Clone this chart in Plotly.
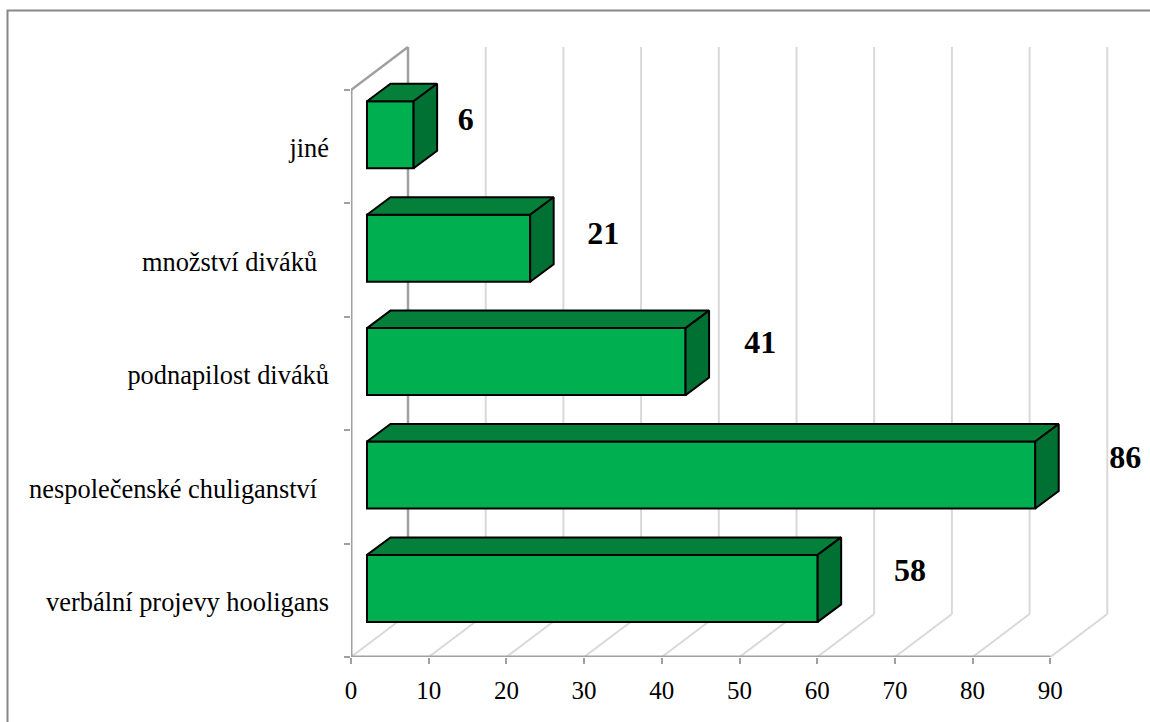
import plotly.graph_objects as go

# Data (bottom to top)
categories = ["verbální projevy hooligans", "nespolečenské chuliganství\u00a0\u2009",
              "podnapilost diváků", "množství diváků\u00a0\u2009", "jiné"]
values = [58, 86, 41, 21, 6]
x_ticks = [0, 10, 20, 30, 40, 50, 60, 70, 80, 90]

# Layout geometry
W, H = 1150, 722
LEFT, BOTTOM = 351, 65
PX_X = 7.77      # pixels per x unit
PX_Y = 113.4     # pixels per category
XMAX = (W - LEFT) / PX_X
YMAX = (H - BOTTOM) / PX_Y

# Pseudo-3D projection, in axis units
WALL_DX, WALL_DY = 57 / PX_X, 43 / PX_Y
BAR_DX, BAR_DY = 23.5 / PX_X, 17.5 / PX_Y
BASE = 16 / PX_X
BAR_W = 67 / PX_Y
BAR_SHIFT = 0.105
LABEL_SHIFT = 0.012

# Hand placed data label offsets
label_dx = [11.9, 11.6, 9.6, 9.4, 6.7]
label_dy = [0.135, 0.135, 0.145, 0.105, 0.115]

GREY = "#A0A0A0"
GRID = "#D9D9D9"
FRONT, TOP, SIDE = "#00B050", "#05803A", "#007133"
BLACK = "#000000"

fig = go.Figure()

n = len(categories)
centers = [i + 0.5 + BAR_SHIFT for i in range(n)]

fig.add_trace(go.Bar(
    y=centers, x=values, base=[BASE] * n, orientation="h", width=BAR_W,
    marker=dict(color=FRONT, line=dict(color=BLACK, width=2)),
    hoverinfo="skip", showlegend=False))

for c, v in zip(centers, values):
    right = BASE + v
    top = c + BAR_W / 2
    bot = c - BAR_W / 2
    fig.add_trace(go.Scatter(
        x=[BASE, right, right + BAR_DX, BASE + BAR_DX, BASE],
        y=[top, top, top + BAR_DY, top + BAR_DY, top],
        mode="lines", fill="toself", fillcolor=TOP,
        line=dict(color=BLACK, width=2), hoverinfo="skip", showlegend=False))
    fig.add_trace(go.Scatter(
        x=[right, right + BAR_DX, right + BAR_DX, right, right],
        y=[top, top + BAR_DY, bot + BAR_DY, bot, top],
        mode="lines", fill="toself", fillcolor=SIDE,
        line=dict(color=BLACK, width=2), hoverinfo="skip", showlegend=False))

fig.add_trace(go.Scatter(
    x=[BASE + v + d for v, d in zip(values, label_dx)],
    y=[c + d for c, d in zip(centers, label_dy)],
    text=[str(v) for v in values], mode="text", textposition="middle center",
    textfont=dict(family="Liberation Serif", size=32, color=BLACK, weight="bold"),
    hoverinfo="skip", showlegend=False))

shapes = []
def line(x0, y0, x1, y1, color, width):
    shapes.append(dict(type="line", xref="x", yref="y", x0=x0, y0=y0, x1=x1, y1=y1,
                       layer="below", line=dict(color=color, width=width)))

for t in x_ticks:
    line(t, 0, t + WALL_DX, WALL_DY, GRID, 2)
    if t > 0:
        line(t + WALL_DX, WALL_DY, t + WALL_DX, 5 + WALL_DY, GRID, 2)
line(0, 5, WALL_DX, 5 + WALL_DY, GREY, 2.5)
line(WALL_DX, WALL_DY, WALL_DX, 5 + WALL_DY, GREY, 2.5)
line(0, 0, 0, 5, GREY, 3)
line(0, 0, x_ticks[-1], 0, GREY, 3)

# Outer frame: top and left edges only
fx = (7.5 - LEFT) / (W - LEFT)
fy = (H - BOTTOM - 10.5) / (H - BOTTOM)
fy0 = -BOTTOM / (H - BOTTOM)
shapes.append(dict(type="path", xref="paper", yref="paper",
                   path=f"M {fx} {fy0} L {fx} {fy} L 1 {fy}",
                   line=dict(color="#888888", width=2), layer="below"))

tick_font = dict(family="Liberation Serif", size=25, color=BLACK)
cat_font = dict(family="Liberation Serif", size=26.4, color=BLACK)

fig.update_layout(
    width=W, height=H, paper_bgcolor="white", plot_bgcolor="white",
    margin=dict(l=LEFT, r=0, t=0, b=BOTTOM, pad=0, autoexpand=False),
    showlegend=False, shapes=shapes,
    xaxis=dict(range=[0, XMAX], tickmode="array", tickvals=x_ticks,
               ticktext=[str(t) for t in x_ticks], ticks="outside", ticklen=6,
               tickwidth=2, tickcolor=GREY, tickfont=tick_font, showgrid=False,
               zeroline=False, showline=False, ticklabelstandoff=5),
    yaxis=dict(range=[0, YMAX], tickmode="array",
               tickvals=[i + 0.5 - LABEL_SHIFT for i in range(n)], ticktext=categories,
               ticks="", tickfont=cat_font, showgrid=False, zeroline=False,
               showline=False, ticklabelstandoff=21,
               minor=dict(tickmode="array", tickvals=list(range(n + 1)),
                          ticks="outside", ticklen=6, tickwidth=2,
                          tickcolor=GREY, showgrid=False)),
)

fig.write_html("out.html", config=dict(displayModeBar=False),
               post_script="document.body.style.margin='0';document.body.style.overflow='hidden';")
